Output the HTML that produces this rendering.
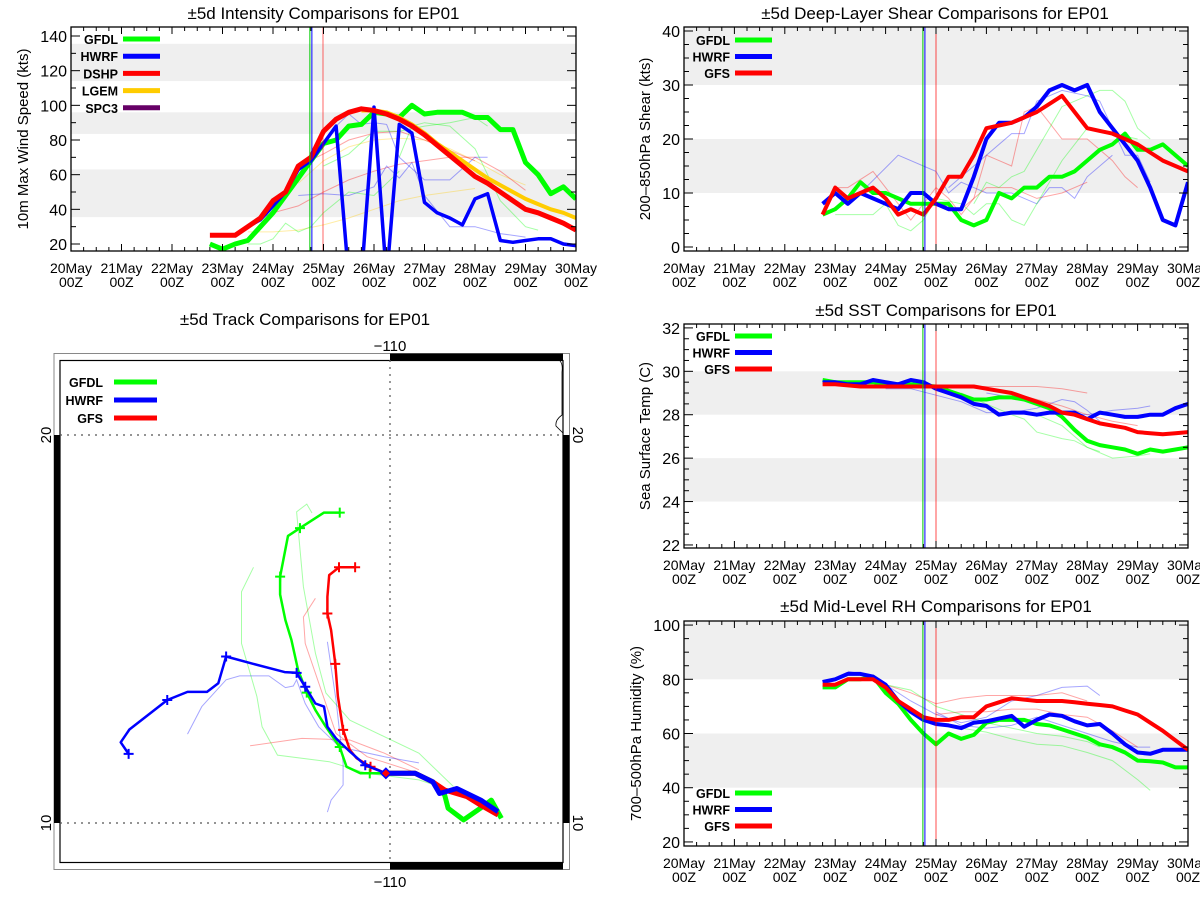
<!DOCTYPE html>
<html><head><meta charset="utf-8">
<style>
html,body{margin:0;padding:0;background:#fff;}
svg{display:block;font-family:"Liberation Sans",sans-serif;}
</style></head>
<body>
<svg id="chart" width="1200" height="900" viewBox="0 0 1200 900" xmlns="http://www.w3.org/2000/svg">
<defs>
<clipPath id="clip1"><rect x="71" y="27" width="505" height="224"/></clipPath>
<clipPath id="clip2"><rect x="684" y="27" width="504" height="224"/></clipPath>
<clipPath id="clip3"><rect x="684" y="324" width="504" height="224"/></clipPath>
<clipPath id="clip4"><rect x="684" y="621" width="504" height="225"/></clipPath>
<clipPath id="clipT"><rect x="60" y="360" width="503" height="502"/></clipPath>
</defs>
<g id="root"></g>
</svg>
<script>
// ---- shared time axis (days since 20May 00Z, 6-hourly) ----
const dayLabels = ["20May","21May","22May","23May","24May","25May","26May","27May","28May","29May","30May"];
const hourLabel = "00Z";

// ---- Intensity (kts) ----
const intT = [2.75,3,3.25,3.5,3.75,4,4.25,4.5,4.75,5,5.25,5.5,5.75,6,6.25,6.5,6.75,7,7.25,7.5,7.75,8,8.25,8.5,8.75,9,9.25,9.5,9.75,10];
const intGFDL = [20,17,20,22,30,38,48,58,68,78,80,88,89,96,95,93,100,95,96,96,96,93,93,86,86,67,60,49,53,46];
const intDSHP = [25,25,25,30,35,45,50,65,70,85,92,96,98,97,95,92,88,83,77,71,65,59,55,50,45,40,38,35,32,28];
const intHWRFt = [3.5,3.75,4,4.25,4.5,4.75,5,5.25,5.5,5.75,6,6.25,6.5,6.75,7,7.25,7.5,7.75,8,8.25,8.5,8.75,9,9.25,9.5,9.75,10];
const intHWRF = [30,34,42,50,63,68,78,88,0,0,99,0,89,84,44,38,35,31,46,49,22,21,22,23,23,20,19];
const intLGEMt = [5.75,6,6.25,6.5,6.75,7,7.25,7.5,7.75,8,8.25,8.5,8.75,9,9.25,9.5,9.75,10];
const intLGEM = [97,97,96,93,89,84,78,73,68,63,58,54,50,46,43,40,38,35];
const intThinT = [
 [3.5,4,4.5,5,5.5,6,6.5,7,7.5,8],
 [4.5,5,5.5,6,6.5,7,7.5,8,8.5,9],
 [3.75,4,4.5,5,5.5,6,6.5,7,7.5,8,8.5,9],
 [4.5,5,5.5,6,6.5,7,7.5,8],
 [4.5,5,5.5,6,6.25,6.5,6.75,7,7.5,8,8.5,9],
 [5.25,5.5,5.75,6,6.25,6.5,7,7.5,8,8.25],
 [3.5,3.75,4,4.25,4.5,4.75,5,5.5,6,6.5],
 [5,5.5,6,6.5,7,7.5,8,8.25],
 [6.5,6.75,7,7.5,8,8.5,9,9.25]];
const intThinV = [
 [27,27,28,31,35,40,45,48,50,52],
 [55,68,76,80,81,80,75,68,60,54],
 [35,38,42,50,57,62,66,68,70,70,62,51],
 [65,72,80,84,85,80,74,68],
 [48,49,48,53,65,58,67,48,30,30,26,24],
 [88,95,89,90,89,70,57,57,70,70],
 [20,20,23,32,27,30,38,50,48,62],
 [65,72,85,85,88,90,93,88],
 [70,88,90,88,75,45,30,28]];
const intThinC = ["#ffcc00","#ffcc00","#ff0000","#ff0000","#0000ff","#0000ff","#00ff00","#00ff00","#00ff00"];

// ---- Shear (kts) ----
const shT = intT;
const shGFDL = [6,7,9,12,10,10,9,8,8,8,8,5,4,5,10,9,11,11,13,13,14,16,18,19,21,18,18,19,17,15];
const shHWRF = [8,10,8,10,9,8,7,10,10,8,7,7,13,20,23,23,24,26,29,30,29,30,25,22,19,16,11,5,4,12];
const shGFS = [6,11,9,10,11,9,6,7,6,9,13,13,17,22,22.5,23,24,25,26.5,28,25,22,21.5,21,20,19,17.5,16,15,14];
const shThinT = [
 [3.25,3.5,4.25,5,5.25,5.5,6,6.5,7,7.25,7.5,7.75,8,8.5],
 [5.25,5.5,6,6.5,6.75,7,7.5,8,8.25,8.5,8.75,9,9.25],
 [3,3.25,3.75,4,4.25,4.5,4.75,5,5.25,5.5,5.75,6,6.25,6.5,6.75,7,7.25,7.5,7.75,8,8.25,8.5,8.75,9],
 [5.5,6,6.5,7,7.5,8],
 [3,3.25,3.75,4,4.25,4.5,4.75,5,5.5,5.75,6,6.25,6.5,6.75,7,7.5,8,8.5,9],
 [5.75,6,6.25,6.5,6.75,7,7.5,8,8.25,8.5,8.75,9,9.25]];
const shThinV = [
 [9,10,17,14,10,12,10,10,8,11,11,9,13,17],
 [11,13,17,21,21,27,29,28,27,22,17,17,12],
 [11,11,14,11,8,5,8,11,9,6,9,17,16,15,25,26,23,20,20,20,18,16,13,11],
 [7,11,11,9,10,12],
 [6,6,6,8,4,3,5,9,8,6,8,8,5,4,8,16,22,21,20],
 [8,12,11,13,14,18,26,28,29,29,27,22,20]];
const shThinC = ["#0000ff","#0000ff","#ff0000","#ff0000","#00ff00","#00ff00"];

// ---- SST (C) ----
const sstGFDL = [29.6,29.5,29.5,29.5,29.5,29.4,29.4,29.4,29.35,29.3,29.1,28.9,28.7,28.7,28.8,28.8,28.7,28.5,28.3,27.9,27.3,26.8,26.6,26.5,26.4,26.2,26.4,26.3,26.4,26.5];
const sstHWRF = [29.5,29.5,29.4,29.4,29.6,29.5,29.4,29.6,29.5,29.2,29.0,28.8,28.5,28.4,28.0,28.1,28.1,28.0,28.1,28.1,28.1,27.8,28.1,28.0,27.9,27.9,28.0,28.0,28.3,28.5];
const sstGFS = [29.4,29.4,29.35,29.3,29.3,29.3,29.3,29.3,29.3,29.3,29.3,29.3,29.3,29.2,29.1,29.0,28.8,28.6,28.4,28.1,28.0,27.8,27.6,27.5,27.4,27.2,27.15,27.1,27.15,27.2];
const sstThinT = [
 [4,4.5,5,5.5,6,6.5,7,7.5,7.75,8,8.25],
 [6,6.5,7,7.5,8,8.5,9,9.25],
 [5.75,6.5,7,7.5,8],
 [6.5,7,7.5,8,8.5,9],
 [5.5,6,6.5,6.75,7,7.5,7.75,8,8.25],
 [7,7.5,8,8.5,9,9.25]];
const sstThinV = [
 [29.2,29.2,28.9,28.6,28.1,28.1,28.3,28.7,28.6,28.2,27.7],
 [29.0,28.8,28.5,28.1,28.0,28.2,28.3,28.4],
 [29.3,29.3,29.3,29.2,29.0],
 [29.0,28.7,28.4,28.0,27.7,27.5],
 [29.0,28.5,28.0,27.8,27.2,26.9,26.8,26.5,26.3],
 [28.0,27.5,26.5,26.0,26.1,26.2]];
const sstThinC = ["#0000ff","#0000ff","#ff0000","#ff0000","#00ff00","#00ff00"];

// ---- RH (%) ----
const rhGFDL = [77,77,80,80,81,75,71,65,60,56,60,58,59.5,64,65,65,65,63.5,63,61.5,60,58.5,56,55,53,50,49.8,49.3,47.5,47.5];
const rhHWRF = [79,80,82,82,81,78,72,68,65,63.5,63,62,64,64.5,65.5,66.5,62.5,65,67,66.5,64.5,63,63.5,60,56,53,52.5,54,54,54];
const rhGFS = [78,78,80,80,80,77,72,69,66,65,65,66,66,70,71.5,73,72.5,72,72,72,71.5,71,70.5,70,68.5,67,64,61,57.5,54];
const rhThinT = [
 [3.25,3.5,4,4.5,5,5.5,6,6.5,7,7.5,8,8.25],
 [5,5.5,6,6.5,7,7.5,8,8.5,9,9.25],
 [3.75,4,4.5,5,5.5,6,6.5,7,7.5,8],
 [5,5.5,6,6.5,7,7.5,8,8.5,9],
 [4,4.5,5,5.5,6,6.5,7,7.5,8,8.25],
 [5,5.5,6,6.5,7,7.5,8,8.5,9,9.25]];
const rhThinV = [
 [83,82,78,72,67,64,66,72,74,77,77.5,74],
 [68,63,62,63,66,63,60,57,55,55],
 [80,78,75,71,73,74,74,74,75,72],
 [67,68,68,69,69,67,66,61,55],
 [78,76,70,67,64,62,60,59,57,55],
 [64,62,60.5,58,56,55.5,53,50,43,39]];
const rhThinC = ["#0000ff","#0000ff","#ff0000","#ff0000","#00ff00","#00ff00"];

// ---- Track (lon, lat) ----
const trkGFDLlon = [-107.03,-107.30,-107.53,-108.04,-108.45,-108.54,-108.86,-109.33,-110.11,-110.54,-110.79,-111.16,-111.34,-111.71,-111.99,-112.22,-112.45,-112.63,-112.79,-112.93,-112.93,-112.72,-112.40,-111.76,-111.34];
const trkGFDLlat = [10.12,10.59,10.42,10.08,10.38,10.72,11.06,11.28,11.28,11.28,11.28,11.45,11.96,12.48,12.91,13.36,13.94,14.72,15.23,15.89,16.35,17.40,17.60,18.0,18.0];
const trkHWRFlon = [-107.12,-107.58,-108.22,-108.68,-108.86,-109.33,-110.11,-110.66,-111.07,-111.44,-111.67,-111.76,-111.99,-112.26,-112.49,-112.81,-113.64,-114.37,-114.58,-114.88,-115.40,-115.94,-116.95,-117.18,-116.97];
const trkHWRFlat = [10.29,10.59,10.89,10.76,11.06,11.28,11.28,11.49,11.84,12.18,12.48,13.0,13.08,13.51,13.87,13.89,14.10,14.29,13.60,13.38,13.38,13.17,12.41,12.08,11.78];
const trkGFSlon = [-107.12,-107.58,-107.95,-108.54,-108.86,-109.33,-110.11,-110.52,-110.89,-111.07,-111.25,-111.39,-111.46,-111.57,-111.67,-111.67,-111.62,-111.36,-110.93];
const trkGFSlat = [10.21,10.46,10.68,10.85,11.06,11.28,11.28,11.45,11.67,11.88,12.40,13.26,14.10,14.97,15.40,15.83,16.39,16.59,16.59];
const trkGFDLmk = [9,12,15,20,22,24];
const trkHWRFmk = [7,13,14,17,21,24];
const trkGFSmk = [7,10,12,14,17,18];
const trkThinLon = [
 [-113.64,-113.96,-113.96,-113.55,-113.41,-113.0,-111.62,-110.61,-109.23,-107.86],
 [-112.08,-112.22,-112.49,-112.31,-111.99,-111.71,-111.07,-109.23,-108.31],
 [-111.99,-112.31,-112.26,-111.44,-110.61,-109.23],
 [-113.73,-112.35,-111.07,-110.15,-109.23],
 [-115.40,-115.02,-114.37,-114.01,-113.23,-112.79,-112.58,-112.49,-112.26,-111.90,-111.34,-110.15,-109.23],
 [-111.67,-111.44,-111.25,-111.25,-111.57,-111.67]];
const trkThinLat = [
 [16.59,15.96,14.63,13.26,12.48,11.75,11.58,11.28,11.11,10.68],
 [17.99,18.22,18.02,16.09,14.38,13.35,12.65,11.80,10.94],
 [15.79,15.31,14.63,12.31,11.71,11.28],
 [11.99,12.18,12.14,11.80,11.37],
 [12.29,13.0,13.69,13.79,13.79,13.49,13.53,13.69,13.08,12.48,11.96,11.71,11.55],
 [14.67,13.17,11.54,10.98,10.59,10.28]];
const trkThinC = ["#00ff00","#00ff00","#ff0000","#ff0000","#0000ff","#0000ff"];

const NS = "http://www.w3.org/2000/svg";
const root = document.getElementById('root');
function mk(tag, attrs, parent) {
  const e = document.createElementNS(NS, tag);
  for (const k in attrs) e.setAttribute(k, attrs[k]);
  (parent || root).appendChild(e);
  return e;
}
function txt(s, x, y, size, anchor, parent, extra) {
  const t = mk('text', Object.assign({x:x, y:y, 'font-size':size, 'text-anchor':anchor||'middle', fill:'#000'}, extra||{}), parent);
  t.textContent = s;
  return t;
}

function panel(cfg) {
  const g = mk('g', {});
  
  
  const X = d => cfg.x0 + (cfg.x1 - cfg.x0) * d / 10;
  const Y = v => cfg.yb - (v - cfg.vmin) / (cfg.vmax - cfg.vmin) * (cfg.yb - cfg.yt);
  cfg.bands.forEach(b => {
    const r = mk('rect', {x:cfg.x0, y:Y(b[1]), width:cfg.x1-cfg.x0, height:Y(b[0])-Y(b[1]), fill:'#efefef'}, g);
    
    
  });
  const ti = txt(cfg.title, (cfg.x0+cfg.x1)/2 + (cfg.titleDx||0), cfg.titleY, 17, 'middle', g);
  
  
  const yt = txt(cfg.ytitle, 0, 0, 15, 'middle', g, {transform:`translate(${cfg.ytx},${(cfg.yt+cfg.yb)/2}) rotate(-90)`});
  
  
  const cg = mk('g', {'clip-path':`url(#${cfg.clip})`}, g);
  cfg.thinT.forEach((ts, i) => {
    const pts = ts.map((d, j) => X(d).toFixed(1)+','+Y(cfg.thinV[i][j]).toFixed(1)).join(' ');
    const p = mk('polyline', {points:pts, fill:'none', stroke:cfg.thinC[i], 'stroke-width':1, 'stroke-opacity':0.35}, cg);
    
    
  });
  cfg.vlines.forEach(v => {
    const l = mk('line', {x1:X(v[0]), x2:X(v[0]), y1:cfg.yt, y2:cfg.yb, stroke:v[1], 'stroke-width':1, 'stroke-opacity':v[2]}, g);
    
    
  });
  cfg.series.forEach(s => {
    const pts = s.t.map((d, j) => X(d).toFixed(1)+','+Y(s.v[j]).toFixed(1)).join(' ');
    const p = mk('polyline', {points:pts, fill:'none', stroke:s.c, 'stroke-width':s.w||4, 'stroke-linejoin':'round'}, cg);
    
    
  });
  const bx = mk('rect', {x:cfg.x0, y:cfg.yt, width:cfg.x1-cfg.x0, height:cfg.yb-cfg.yt, fill:'none', stroke:'#000', 'stroke-width':1.3}, g);
  
  
  for (let k = 0; k <= 40; k++) {
    const x = X(k/4), len = (k % 4 === 0) ? 7 : 4;
    mk('line', {x1:x, x2:x, y1:cfg.yb, y2:cfg.yb-len, stroke:'#000', 'stroke-width':1}, g);
    mk('line', {x1:x, x2:x, y1:cfg.yt, y2:cfg.yt+len, stroke:'#000', 'stroke-width':1}, g);
  }
  dayLabels.forEach((s, i) => {
    const a = txt(s, X(i), cfg.yb + 22, 14, 'middle', g);
    
    
    const b = txt(hourLabel, X(i), cfg.yb + 36, 14, 'middle', g);
    
    
  });
  for (let v = cfg.tick0; v <= cfg.vmax + 1e-6; v += cfg.minor) {
    const y = Y(v);
    const major = Math.abs(((v - cfg.tick0) / cfg.major) - Math.round((v - cfg.tick0) / cfg.major)) < 1e-6;
    const len = major ? 9 : 5;
    mk('line', {x1:cfg.x0, x2:cfg.x0+len, y1:y, y2:y, stroke:'#000', 'stroke-width':1}, g);
    mk('line', {x1:cfg.x1, x2:cfg.x1-len, y1:y, y2:y, stroke:'#000', 'stroke-width':1}, g);
    if (major) {
      const t = txt(String(Math.round(v)), cfg.x0 - 4, y + 6, 16, 'end', g);
      
      
    }
  }
  cfg.legend.forEach((L, i) => {
    const y = cfg.legY + i * cfg.legDy;
    const lg = mk('g', {}, g);
    
    
    txt(L[0], cfg.legTx, y + 5, 12.5, 'end', lg, {'font-weight':'bold'});
    mk('line', {x1:cfg.legLx, x2:cfg.legLx+37, y1:y, y2:y, stroke:L[1], 'stroke-width':5}, lg);
  });
}

const vlL = [[4.73,'#00cc00',1],[4.77,'#0000ff',1],[4.99,'#ff0000',0.6]];
panel({name:'intensity-panel', clip:'clip1', x0:71, x1:576, yt:27, yb:251, vmin:15.96, vmax:145.2,
  tick0:20, major:20, minor:10, bands:[[114,135.5],[83.5,96],[35.5,63]],
  title:'±5d Intensity Comparisons for EP01', titleY:19, ytitle:'10m Max Wind Speed (kts)', ytx:28,
  thinT:intThinT, thinV:intThinV, thinC:intThinC, vlines:vlL,
  series:[{name:'gfdl-line',t:intT,v:intGFDL,c:'#00ff00',w:5},{name:'lgem-line',t:intLGEMt,v:intLGEM,c:'#ffcc00',w:4},{name:'hwrf-line',t:intHWRFt,v:intHWRF,c:'#0000ff',w:3.5},{name:'dshp-line',t:intT,v:intDSHP,c:'#ff0000',w:5}],
  legend:[['GFDL','#00ff00'],['HWRF','#0000ff'],['DSHP','#ff0000'],['LGEM','#ffcc00'],['SPC3','#660066']], legY:39, legDy:17.2, legTx:118, legLx:123});

const vlR = [[4.74,'#00cc00',1],[4.78,'#0000ff',1],[5.0,'#ff0000',0.7]];
const legR = [['GFDL','#00ff00'],['HWRF','#0000ff'],['GFS','#ff0000']];
panel({name:'shear-panel', clip:'clip2', x0:684, x1:1188, yt:27, yb:251, vmin:-0.74, vmax:40.74,
  tick0:0, major:10, minor:2.5, bands:[[30,40.74],[10,20]],
  title:'±5d Deep-Layer Shear Comparisons for EP01', titleY:19, titleDx:-1, ytitle:'200–850hPa Shear (kts)', ytx:650,
  thinT:shThinT, thinV:shThinV, thinC:shThinC, vlines:vlR,
  series:[{name:'gfdl-line',t:shT,v:shGFDL,c:'#00ff00',w:4},{name:'hwrf-line',t:shT,v:shHWRF,c:'#0000ff',w:4},{name:'gfs-line',t:shT,v:shGFS,c:'#ff0000',w:4}],
  legend:legR, legY:40, legDy:16.5, legTx:730, legLx:735});

panel({name:'sst-panel', clip:'clip3', x0:684, x1:1188, yt:324, yb:548, vmin:21.86, vmax:32.18,
  tick0:22, major:2, minor:0.5, bands:[[28,30],[24,26]],
  title:'±5d SST Comparisons for EP01', titleY:316, ytitle:'Sea Surface Temp (C)', ytx:650,
  thinT:sstThinT, thinV:sstThinV, thinC:sstThinC, vlines:vlR,
  series:[{name:'gfdl-line',t:intT,v:sstGFDL,c:'#00ff00',w:4},{name:'hwrf-line',t:intT,v:sstHWRF,c:'#0000ff',w:4},{name:'gfs-line',t:intT,v:sstGFS,c:'#ff0000',w:4}],
  legend:legR, legY:336, legDy:16.5, legTx:730, legLx:735});

panel({name:'rh-panel', clip:'clip4', x0:684, x1:1188, yt:621, yb:846, vmin:18.5, vmax:101.5,
  tick0:20, major:20, minor:5, bands:[[80,101.5],[40,60]],
  title:'±5d Mid-Level RH Comparisons for EP01', titleY:612, ytitle:'700–500hPa Humidity (%)', ytx:641,
  thinT:rhThinT, thinV:rhThinV, thinC:rhThinC, vlines:vlR,
  series:[{name:'gfdl-line',t:intT,v:rhGFDL,c:'#00ff00',w:4},{name:'hwrf-line',t:intT,v:rhHWRF,c:'#0000ff',w:4},{name:'gfs-line',t:intT,v:rhGFS,c:'#ff0000',w:4}],
  legend:legR, legY:793, legDy:16.5, legTx:730, legLx:735});

// ---- Track map ----
(function(){
  const g = mk('g', {});
  
  
  const PX = lon => 390 + (lon + 110) * 37.5;
  const PY = lat => 823 - (lat - 10) * 38.8;
  const ti = txt('±5d Track Comparisons for EP01', 305, 325, 17, 'middle', g);
  
  
  const fo = mk('rect', {x:54, y:353.5, width:515.5, height:516, fill:'none', stroke:'#888', 'stroke-width':1}, g);
  
  
  [[390,353.5,173,7],[390,862.5,173,7],[54,435,6,388],[563,435,6.5,388]].forEach(b => {
    const r = mk('rect', {x:b[0], y:b[1], width:b[2], height:b[3], fill:'#000'}, g);
    
    
  });
  const fi = mk('rect', {x:60, y:360.5, width:503, height:502, fill:'none', stroke:'#000', 'stroke-width':1.2}, g);
  
  
  const coast = mk('path', {d:'M560 361 Q563 364 562 372 L562 415 Q555 420 556 426 Q560 430 563 433', fill:'none', stroke:'#000', 'stroke-width':0.8}, g);
  
  
  [[390,360,390,862],[60,PY(20),563,PY(20)],[60,PY(10),563,PY(10)]].forEach(l => {
    const e = mk('line', {x1:l[0], y1:l[1], x2:l[2], y2:l[3], stroke:'#555', 'stroke-width':1.2, 'stroke-dasharray':'2 5'}, g);
    
    
  });
  const labs = [['−110',390,351,0],['−110',390,887,0],['20',51,PY(20),-90],['20',573,PY(20),90],['10',51,PY(10),-90],['10',573,PY(10),90]];
  labs.forEach(L => {
    const t = txt(L[0], 0, 0, 15, 'middle', g, {transform:`translate(${L[1]},${L[2]}) rotate(${L[3]})`});
    
    
  });
  const cg = mk('g', {'clip-path':'url(#clipT)'}, g);
  trkThinLon.forEach((lons, i) => {
    const pts = lons.map((lo, j) => PX(lo).toFixed(1)+','+PY(trkThinLat[i][j]).toFixed(1)).join(' ');
    const p = mk('polyline', {points:pts, fill:'none', stroke:trkThinC[i], 'stroke-width':1, 'stroke-opacity':0.35}, cg);
    
    
  });
  const tracks = [
    {n:'gfdl-track', lon:trkGFDLlon, lat:trkGFDLlat, mk:trkGFDLmk, c:'#00ff00', thick:9},
    {n:'gfs-track', lon:trkGFSlon, lat:trkGFSlat, mk:trkGFSmk, c:'#ff0000', thick:7},
    {n:'hwrf-track', lon:trkHWRFlon, lat:trkHWRFlat, mk:trkHWRFmk, c:'#0000ff', thick:7}];
  tracks.forEach(T => {
    const pts = T.lon.map((lo, j) => PX(lo).toFixed(1)+','+PY(T.lat[j]).toFixed(1));
    const p1 = mk('polyline', {points:pts.slice(0, T.thick).join(' '), fill:'none', stroke:T.c, 'stroke-width':5, 'stroke-linejoin':'round'}, cg);
    
    
    const p2 = mk('polyline', {points:pts.slice(T.thick - 1).join(' '), fill:'none', stroke:T.c, 'stroke-width':2.5, 'stroke-linejoin':'round'}, cg);
    
    
    T.mk.forEach(j => {
      const x = PX(T.lon[j]), y = PY(T.lat[j]);
      const m = mk('path', {d:`M${x-5} ${y}H${x+5}M${x} ${y-5}V${y+5}`, stroke:T.c, 'stroke-width':2}, cg);
      
      
    });
  });
  const dx = PX(-110.11), dy = PY(11.28);
  const dm = mk('path', {d:`M${dx} ${dy-5}L${dx+5} ${dy}L${dx} ${dy+5}L${dx-5} ${dy}Z`, fill:'#ff0000', stroke:'#0000ff', 'stroke-width':1.5}, g);
  
  
  [['GFDL','#00ff00'],['HWRF','#0000ff'],['GFS','#ff0000']].forEach((L, i) => {
    const y = 382 + i * 18;
    const lg = mk('g', {}, g);
    
    
    txt(L[0], 103, y + 5, 12.5, 'end', lg, {'font-weight':'bold'});
    mk('line', {x1:114, x2:157, y1:y, y2:y, stroke:L[1], 'stroke-width':5}, lg);
  });
})();
</script>
</body></html>
